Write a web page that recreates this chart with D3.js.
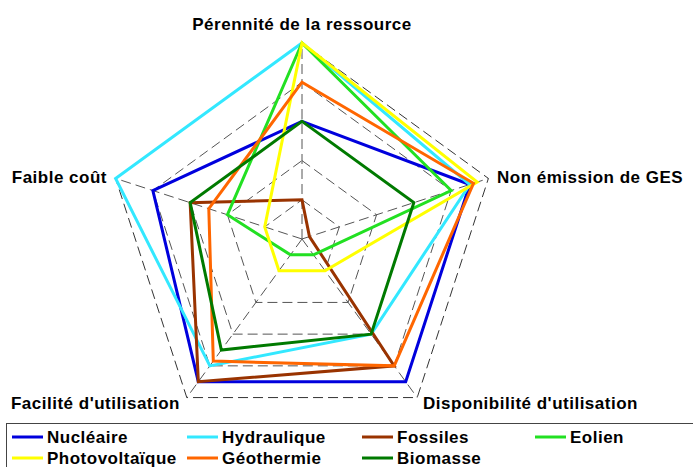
<!DOCTYPE html>
<html>
<head>
  <meta charset="utf-8">
  <script src="https://d3js.org/d3.v7.min.js"></script>
  <style>
    body { margin: 0; background: #fff; }
    text { font-family: "Liberation Sans", Arial, sans-serif; font-weight: bold; font-size: 17px; letter-spacing: 0.5px; fill: #000; }
  </style>
</head>
<body>
<script>
  const axes = ["Pérennité de la ressource", "Non émission de GES", "Disponibilité d'utilisation", "Facilité d'utilisation", "Faible coût"];
  const seriesNames = ["Nucléaire", "Hydraulique", "Fossiles", "Eolien", "Photovoltaïque", "Géothermie", "Biomasse"];
  const seriesColors = ["#0000dd", "#33e8ff", "#993300", "#22e022", "#ffff00", "#ff6600", "#007a00"];
  const nucleaire = [3, 4.5, 4.5, 4.5, 4];
  const hydraulique = [5, 4.5, 3, 4, 5];
  const fossiles = [1, 0.2, 4, 4.5, 3];
  const eolien = [5, 4, 0.5, 0.5, 2];
  const photovoltaique = [5, 4.7, 1, 1, 1];
  const geothermie = [4, 4.6, 4, 3.85, 2.5];
  const biomasse = [3, 3, 3, 3.5, 3];
  const seriesValues = [nucleaire, hydraulique, fossiles, eolien, photovoltaique, geothermie, biomasse];
  const gridLevels = [1, 2, 3, 4, 5];

  const width = 693, height = 467;
  const cx = 302, cy = 239, R = 196;

  const svg = d3.select("body").append("svg")
    .attr("width", width)
    .attr("height", height);

  const r = d3.scaleLinear().domain([0, 5]).range([0, R]);
  const angle = i => i * 2 * Math.PI / axes.length;
  const pt = (i, v) => [cx + r(v) * Math.sin(angle(i)), cy - r(v) * Math.cos(angle(i))];

  const g = svg.append("g");

  // grid rings
  g.selectAll(".ring")
    .data(gridLevels)
    .enter().append("polygon")
    .attr("points", lv => axes.map((a, i) => pt(i, lv).join(",")).join(" "))
    .attr("fill", "none")
    .attr("stroke", lv => lv === 5 ? "#333" : "#555")
    .attr("stroke-width", 1)
    .attr("stroke-dasharray", "10,5");

  // spokes
  g.selectAll(".spoke")
    .data(axes)
    .enter().append("line")
    .attr("x1", cx).attr("y1", cy)
    .attr("x2", (a, i) => pt(i, 5)[0])
    .attr("y2", (a, i) => pt(i, 5)[1])
    .attr("stroke", "#555")
    .attr("stroke-width", 1)
    .attr("stroke-dasharray", "10,5");

  // series
  const line = d3.line().curve(d3.curveLinearClosed);
  g.selectAll(".series")
    .data(seriesValues)
    .enter().append("path")
    .attr("d", vals => line(vals.map((v, i) => pt(i, v))))
    .attr("fill", "none")
    .attr("stroke", (d, i) => seriesColors[i])
    .attr("stroke-width", 3)
    .attr("stroke-linejoin", "miter");

  // axis labels
  const labelPos = [
    { dx: 0, dy: -209, anchor: "middle" },
    { dx: 195, dy: -56, anchor: "start" },
    { dx: 121, dy: 170, anchor: "start" },
    { dx: -122, dy: 170, anchor: "end" },
    { dx: -195, dy: -56, anchor: "end" }
  ];
  svg.selectAll(".axisLabel")
    .data(axes)
    .enter().append("text")
    .attr("x", (a, i) => cx + labelPos[i].dx)
    .attr("y", (a, i) => cy + labelPos[i].dy)
    .attr("text-anchor", (a, i) => labelPos[i].anchor)
    .text(a => a);

  // legend
  const legend = svg.append("g");
  legend.append("rect")
    .attr("x", 6.5).attr("y", 423.5)
    .attr("width", 700).attr("height", 60)
    .attr("fill", "#fff")
    .attr("stroke", "#444")
    .attr("stroke-width", 1);

  const colX = [12, 187, 362, 535];
  const rowY = [437, 458];
  const item = legend.selectAll(".item")
    .data(seriesNames)
    .enter().append("g")
    .attr("transform", (d, i) => "translate(" + colX[i % 4] + "," + rowY[Math.floor(i / 4)] + ")");
  item.append("line")
    .attr("x1", 0).attr("x2", 31)
    .attr("stroke", (d, i) => seriesColors[i])
    .attr("stroke-width", 3);
  item.append("text")
    .attr("x", 35)
    .attr("y", 6)
    .text(d => d);
</script>
</body>
</html>
